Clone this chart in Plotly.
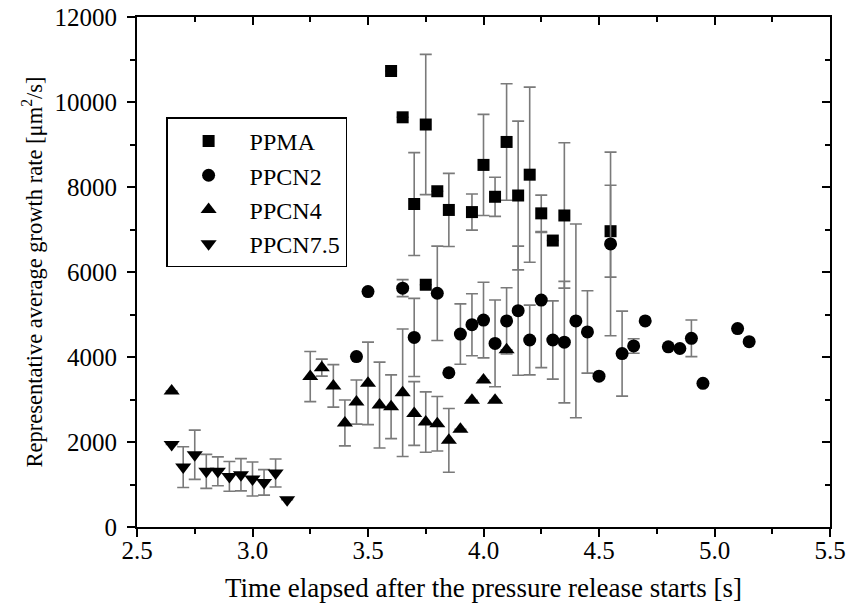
import plotly.graph_objects as go

# ---- data ----
ppma_x = [3.60, 3.65, 3.70, 3.75, 3.75, 3.80, 3.85, 3.95, 4.00, 4.05, 4.10, 4.15, 4.20, 4.25, 4.30, 4.35, 4.55]
ppma_y = [10730, 9640, 7600, 9470, 5700, 7900, 7460, 7410, 8520, 7770, 9060, 7800, 8290, 7380, 6740, 7330, 6960]
ppma_e = [None, None, 1210, 1650, None, None, 860, 425, 1190, 460, 1370, 1750, 2060, 430, None, 1710, 1080]

ppcn2_x = [3.45, 3.50, 3.65, 3.70, 3.80, 3.85, 3.90, 3.95, 4.00, 4.05, 4.10, 4.15, 4.20, 4.25, 4.30,
           4.35, 4.40, 4.45, 4.50, 4.55, 4.60, 4.65, 4.70, 4.80, 4.85, 4.90, 4.95, 5.10, 5.15]
ppcn2_y = [4010, 5540, 5620, 4460, 5500, 3630, 4540, 4760, 4870, 4320, 4850, 5090, 4400, 5340, 4400,
           4350, 4850, 4590, 3550, 6660, 4080, 4260, 4850, 4240, 4200, 4440, 3380, 4670, 4360]
ppcn2_e = [None, None, 200, 920, 1110, None, 710, 730, 890, 1020, 780, 1520, 820, 1590, 920,
           1430, 2280, 970, None, 2160, 1000, 170, None, None, None, 430, None, None, None]

ppcn4_x = [2.65, 3.25, 3.30, 3.35, 3.40, 3.45, 3.50, 3.55, 3.60, 3.65, 3.70, 3.75, 3.80, 3.85,
           3.90, 3.95, 4.00, 4.05, 4.10]
ppcn4_y = [3200, 3540, 3750, 3320, 2450, 2940, 3380, 2870, 2830, 3160, 2670, 2470, 2430, 2040,
           2300, 2980, 3460, 2980, 4170]
ppcn4_e = [None, 590, 200, 500, 540, 520, 970, 1010, 750, 1500, 750, 710, 640, 750,
           None, None, None, None, None]

ppcn75_x = [2.65, 2.70, 2.75, 2.80, 2.85, 2.90, 2.95, 3.00, 3.05, 3.10, 3.15]
ppcn75_y = [1940, 1410, 1700, 1310, 1310, 1190, 1230, 1130, 1050, 1270, 640]
ppcn75_e = [None, 480, 580, 400, 340, 350, 380, 400, 300, 330, None]

x_ticks = [2.5, 3.0, 3.5, 4.0, 4.5, 5.0, 5.5]
x_ticklabels = ["2.5", "3.0", "3.5", "4.0", "4.5", "5.0", "5.5"]
y_ticks = [0, 2000, 4000, 6000, 8000, 10000, 12000]
y_ticklabels = ["0", "2000", "4000", "6000", "8000", "10000", "12000"]

FONT = "Liberation Serif"
ERR = "#7a7a7a"

def err(arr):
    return dict(type="data", array=arr, symmetric=True, visible=True,
                color=ERR, thickness=1.6, width=6)

fig = go.Figure()
series = [
    ("PPMA", ppma_x, ppma_y, ppma_e, "square", 12),
    ("PPCN2", ppcn2_x, ppcn2_y, ppcn2_e, "circle", 13),
    ("PPCN4", ppcn4_x, ppcn4_y, ppcn4_e, "triangle-up", 14),
    ("PPCN7.5", ppcn75_x, ppcn75_y, ppcn75_e, "triangle-down", 14),
]
for name, xs, ys, es, sym, sz in series:
    fig.add_trace(go.Scatter(
        x=xs, y=ys, mode="markers", name=name,
        marker=dict(symbol=sym, size=sz, color="black", line=dict(width=0)),
        error_y=err(es),
    ))

# helper empty trace for mirrored (inward) ticks on top/right
fig.add_trace(go.Scatter(x=[], y=[], xaxis="x2", yaxis="y2", showlegend=False, hoverinfo="skip"))

axis_common = dict(showgrid=False, zeroline=False, linecolor="black", linewidth=2,
                   tickcolor="black", tickwidth=2, ticklen=8, automargin=False,
                   tickfont=dict(family=FONT, size=25, color="black"))

fig.update_layout(
    width=861, height=614,
    margin=dict(l=137, r=31, t=17, b=87),
    paper_bgcolor="white", plot_bgcolor="white",
    font=dict(family=FONT, color="black"),
    showlegend=True,
    legend=dict(x=0.042, y=0.803, xanchor="left", yanchor="top",
                bordercolor="black", borderwidth=1.5, bgcolor="white",
                font=dict(family=FONT, size=24, color="black"),
                itemwidth=72, tracegroupgap=0),
    xaxis=dict(range=[2.5, 5.5], tickvals=x_ticks, ticktext=x_ticklabels,
               ticks="outside", mirror=True, showline=True, ticklabelstandoff=-8,
               minor=dict(dtick=0.25, tick0=2.5, ticks="outside", ticklen=5, tickwidth=2, tickcolor="black"),
               title=dict(text="Time elapsed after the pressure release starts [s]",
                          font=dict(family=FONT, size=27, color="black")),
               **axis_common),
    yaxis=dict(range=[0, 12000], tickvals=y_ticks, ticktext=y_ticklabels,
               ticks="outside", mirror=True, showline=True, ticklabelstandoff=5,
               minor=dict(dtick=1000, tick0=0, ticks="outside", ticklen=5, tickwidth=2, tickcolor="black"),
               title=dict(text="Representative average growth rate [μm<sup>2</sup>/s]",
                          font=dict(family=FONT, size=22.5, color="black"), standoff=6),
               **axis_common),
    xaxis2=dict(overlaying="x", side="top", anchor="y", matches="x", range=[2.5, 5.5],
                tickvals=x_ticks, ticks="inside", showticklabels=False, showline=False,
                showgrid=False, zeroline=False, tickcolor="black", tickwidth=2, ticklen=8,
                minor=dict(dtick=0.25, tick0=2.5, ticks="inside", ticklen=5, tickwidth=2, tickcolor="black")),
    yaxis2=dict(overlaying="y", side="right", anchor="x", matches="y", range=[0, 12000],
                tickvals=y_ticks, ticks="inside", showticklabels=False, showline=False,
                showgrid=False, zeroline=False, tickcolor="black", tickwidth=2, ticklen=8,
                minor=dict(dtick=1000, tick0=0, ticks="inside", ticklen=5, tickwidth=2, tickcolor="black")),
)

fig.write_html("out.html")
